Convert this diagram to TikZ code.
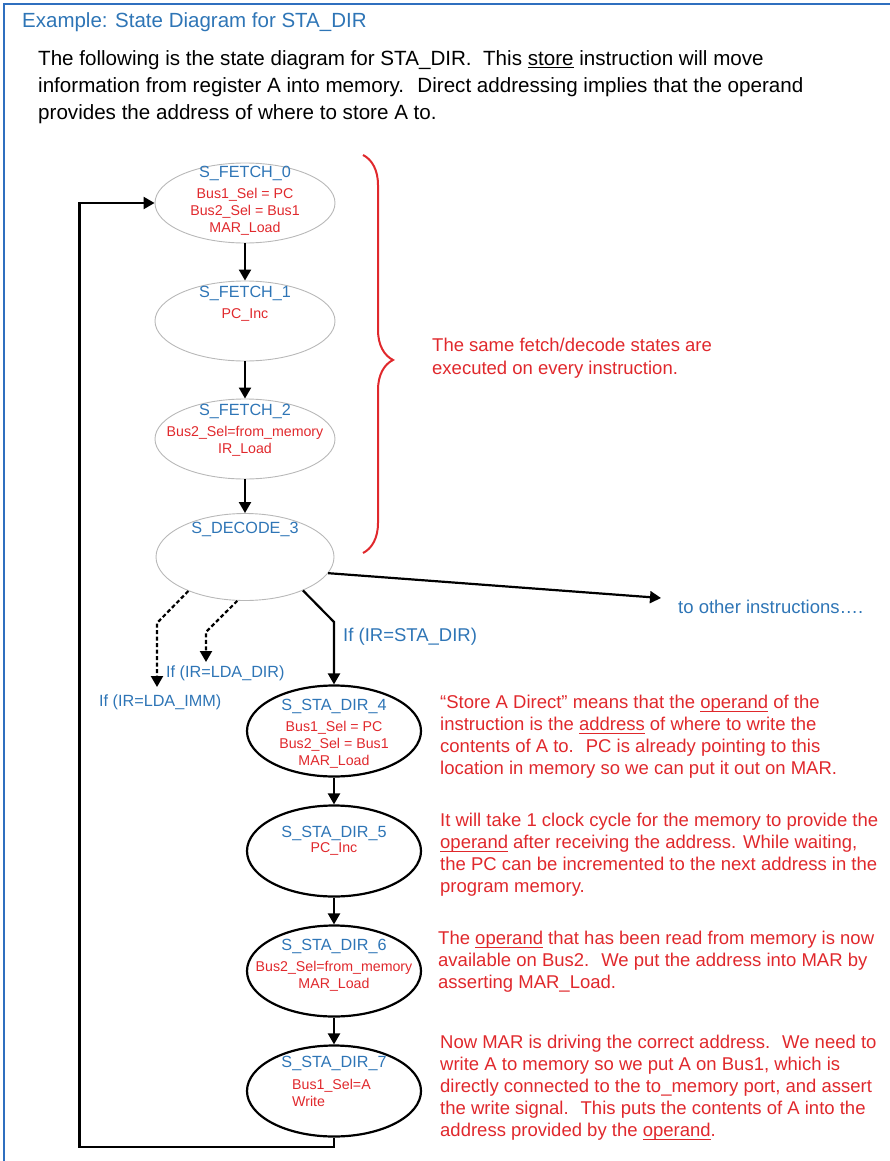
\documentclass[tikz,border=0pt]{standalone}
\usepackage{fontspec}
\setmainfont{Liberation Sans}
\usetikzlibrary{positioning,arrows.meta,shapes,decorations.pathreplacing}
\definecolor{stblue}{HTML}{2E75B6}
\definecolor{stred}{HTML}{E0282C}
\definecolor{framebl}{HTML}{2F6FBF}
\definecolor{fetchgray}{HTML}{B8B8B8}
\newcommand{\stname}[1]{{\color{stblue}\fontsize{16.2}{17}\selectfont #1}}
\newcommand{\undl}[1]{\setbox0\hbox{#1}\rlap{\rule[-3pt]{\wd0}{1pt}}\box0\relax}

\begin{document}
\begin{tikzpicture}[x=1pt, y=-1pt, >={Triangle[length=11pt,width=12pt]}, node distance=118pt, on grid,
    fetch/.style={ellipse, draw=fetchgray, line width=0.9pt, minimum width=180pt, minimum height=80pt, inner sep=0pt},
    sta/.style={ellipse, draw, line width=2.2pt, minimum width=174pt, minimum height=91pt, inner sep=0pt},
    inside/.style={align=center, inner sep=0pt, text=stred, font=\fontsize{14.2}{17}\selectfont},
    note/.style={anchor=north west, align=left, inner sep=0pt, text=stred, font=\fontsize{18.5}{22}\selectfont},
    cond/.style={anchor=west, inner sep=0pt, text=stblue, font=\fontsize{16.2}{18}\selectfont},
    flow/.style={->, line width=2.2pt},
    maybe/.style={->, line width=2.2pt, dash pattern=on 4pt off 2.5pt}]
\useasboundingbox (0,0) rectangle (890,1161);
\draw[framebl, line width=2.5pt] (4,1161) -- (4,4) -- (890,4);

% heading
\node[anchor=west, inner sep=0pt, text=stblue, font=\fontsize{20.5}{22}\selectfont] (title) at (22,22) {Example: State Diagram for STA\_DIR};
\node[anchor=north west, align=left, inner sep=0pt, font=\fontsize{20.6}{27}\selectfont] (intro) at (38,50)
  {The following is the state diagram for STA\_DIR.~ This \undl{store} instruction will move\\
   information from register A into memory.~ Direct addressing implies that the operand\\
   provides the address of where to store A to.};

% fetch / decode states
\node[fetch] (F0) at (245,203) {};
\node[fetch, below=of F0] (F1) {};
\node[fetch, below=of F1] (F2) {};
\node[fetch, below=of F2, minimum width=178pt, minimum height=87pt] (D3) {};
\node[inside, yshift=2.5pt] (F0t) at (F0) {\stname{S\_FETCH\_0}\\[4pt] Bus1\_Sel = PC\\ Bus2\_Sel = Bus1\\ MAR\_Load};
\node[inside, yshift=17.5pt] (F1t) at (F1) {\stname{S\_FETCH\_1}\\[4pt] PC\_Inc};
\node[inside, yshift=9pt] (F2t) at (F2) {\stname{S\_FETCH\_2}\\[4pt] Bus2\_Sel=from\_memory\\ IR\_Load};
\node[inside, yshift=28pt] (D3t) at (D3) {\stname{S\_DECODE\_3}};

\draw[stred, line width=2pt, decorate, decoration={brace, amplitude=30pt, aspect=0.515}] (363,155) -- (363,553);
\node[note, font=\fontsize{18.5}{23}\selectfont] (same) at (432,338) {The same fetch/decode states are\\ executed on every instruction.};

% decode branches
\node[anchor=west, inner sep=0pt, text=stblue, font=\fontsize{18.5}{20}\selectfont] (oth) at (678,607) {to other instructions\dots.};
\node[cond] (ldadir) at (166,673) {If (IR=LDA\_DIR)};
\node[cond] (ldaimm) at (99,702) {If (IR=LDA\_IMM)};
\node[cond, font=\fontsize{18.5}{20}\selectfont] (stadir) at (343,637) {If (IR=STA\_DIR)};
\coordinate (imm) at (157,687);
\coordinate (dir) at (206,662);

% STA_DIR states
\node[sta, node distance=120pt] (S4) at (334,731) {};
\node[sta, node distance=120pt, below=of S4] (S5) {};
\node[sta, node distance=120pt, below=of S5] (S6) {};
\node[sta, node distance=120pt, below=of S6] (S7) {};
\node[inside, yshift=-2.5pt] (S4t) at (S4) {\stname{S\_STA\_DIR\_4}\\[4pt] Bus1\_Sel = PC\\ Bus2\_Sel = Bus1\\ MAR\_Load};
\node[inside, yshift=10.5pt] (S5t) at (S5) {\stname{S\_STA\_DIR\_5}\\[-2pt] PC\_Inc};
\node[inside, yshift=6pt] (S6t) at (S6) {\stname{S\_STA\_DIR\_6}\\[4pt] Bus2\_Sel=from\_memory\\ MAR\_Load};
\node[inside, yshift=28pt] (S7n) at (S7) {\stname{S\_STA\_DIR\_7}};
\node[inside, anchor=west, align=left] (S7t) at (292,1093) {Bus1\_Sel=A\\ Write};

% notes
\node[note] (n4) at (440,695) {``Store A Direct'' means that the \undl{operand} of the\\
  instruction is the \undl{address} of where to write the\\
  contents of A to.~ PC is already pointing to this\\
  location in memory so we can put it out on MAR.};
\node[note] (n5) at (440,813) {It will take 1 clock cycle for the memory to provide the\\
  \undl{operand} after receiving the address. While waiting,\\
  the PC can be incremented to the next address in the\\
  program memory.};
\node[note] (n6) at (438,931) {The \undl{operand} that has been read from memory is now\\
  available on Bus2.~ We put the address into MAR by\\
  asserting MAR\_Load.};
\node[note] (n7) at (440,1035) {Now MAR is driving the correct address.~ We need to\\
  write A to memory so we put A on Bus1, which is\\
  directly connected to the to\_memory port, and assert\\
  the write signal.~ This puts the contents of A into the\\
  address provided by the \undl{operand}.};

% transitions
\draw[flow] (F0) -- (F1);
\draw[flow] (F1) -- (F2);
\draw[flow] (F2) -- (D3);
\draw[flow] (D3.-11) -- ([xshift=-17pt,yshift=9pt]oth.west);
\draw[maybe] (D3.211) -- (157,623) -- (imm);
\draw[maybe] (D3.260) -- (206,632) -- (dir);
\draw[flow] (D3.-30) -- (334,622) -- (S4);
\draw[flow] (S4) -- (S5);
\draw[flow] (S5) -- (S6);
\draw[flow] (S6) -- (S7);
\draw[flow] (S7.south) -- ++(0,9) -| ([xshift=-75pt]F0.west) -- (F0.west);
\end{tikzpicture}
\end{document}
